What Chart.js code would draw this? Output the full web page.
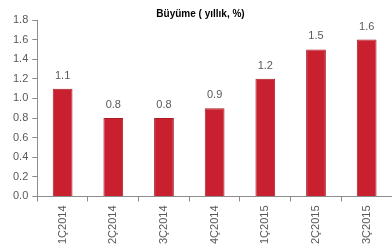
<!DOCTYPE html>
<html>
<head>
<meta charset="utf-8">
<script src="https://cdn.jsdelivr.net/npm/chart.js@4/dist/chart.umd.min.js"></script>
<style>
  html, body { margin: 0; padding: 0; background: #fff; }
  #wrap { width: 392px; height: 251px; }
</style>
</head>
<body>
<div id="wrap"><canvas id="GrowthChart"></canvas></div>
<script>
// veri
var quarters = ['1Ç2014', '2Ç2014', '3Ç2014', '4Ç2014', '1Ç2015', '2Ç2015', '3Ç2015'];
var growth = [1.1, 0.8, 0.8, 0.9, 1.2, 1.5, 1.6];
var chartTitle = 'Büyüme ( yıllık, %)';

var textColor = '#595959';
var axisColor = '#8c8c8c';

// bar ustune deger yazan kucuk plugin
var valueLabels = {
  id: 'valueLabels',
  afterDatasetsDraw: function(chart) {
    var ctx = chart.ctx;
    var meta = chart.getDatasetMeta(0);
    ctx.save();
    ctx.fillStyle = textColor;
    ctx.font = '11px "Liberation Sans", Arial, sans-serif';
    ctx.textAlign = 'center';
    ctx.textBaseline = 'middle';
    meta.data.forEach(function(bar, i) {
      ctx.fillText(growth[i].toFixed(1), bar.x, bar.y - 13);
    });
    ctx.restore();
  }
};

var ctx = document.getElementById('GrowthChart').getContext('2d');
var myChart = new Chart(ctx, {
  type: 'bar',
  data: {
    labels: quarters,
    datasets: [{
      data: growth,
      backgroundColor: '#C8202F',
      borderColor: '#A81B27',
      borderWidth: 1,
      barPercentage: 0.78,
      categoryPercentage: 0.5
    }]
  },
  options: {
    responsive: true,
    maintainAspectRatio: false,
    animation: false,
    layout: { padding: { left: 9, right: 0, top: 0, bottom: 3 } },
    plugins: {
      legend: { display: false },
      tooltip: { enabled: false },
      title: {
        display: true,
        text: chartTitle,
        color: '#000',
        font: { family: '"Liberation Sans", Arial, sans-serif', size: 10, weight: 'bold' },
        padding: { top: 8, bottom: 0 }
      }
    },
    scales: {
      x: {
        grid: {
          display: true,
          drawOnChartArea: false,
          tickLength: 5,
          color: axisColor,
          offset: true
        },
        border: { display: true, color: axisColor },
        ticks: {
          color: textColor,
          font: { family: '"Liberation Sans", Arial, sans-serif', size: 11 },
          minRotation: 90,
          maxRotation: 90,
          padding: 4
        }
      },
      y: {
        min: 0,
        max: 1.8,
        grid: {
          display: true,
          drawOnChartArea: false,
          tickLength: 5,
          color: axisColor
        },
        border: { display: true, color: axisColor },
        ticks: {
          stepSize: 0.2,
          color: textColor,
          font: { family: '"Liberation Sans", Arial, sans-serif', size: 11 },
          padding: 4,
          callback: function(v) { return v.toFixed(1); }
        }
      }
    }
  },
  plugins: [valueLabels]
});
</script>
</body>
</html>
